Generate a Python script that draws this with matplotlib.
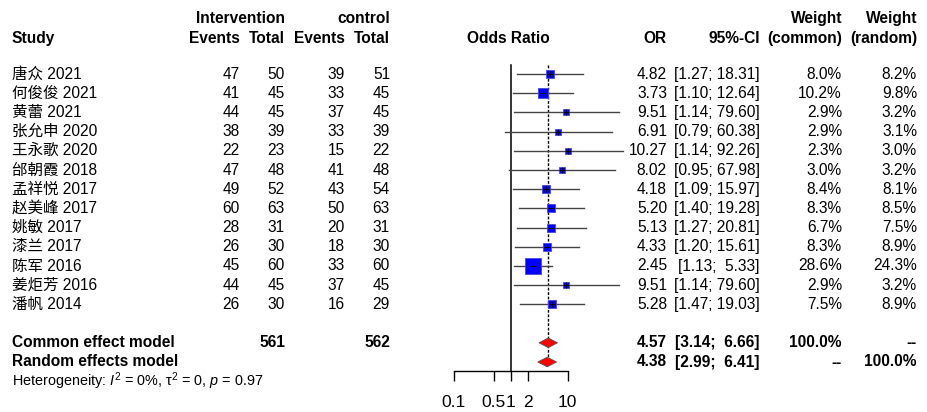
import numpy as np
import matplotlib
matplotlib.use("Agg")
import matplotlib.pyplot as plt

plt.rcParams['font.family'] = ['Liberation Sans', 'Noto Sans CJK SC']
plt.rcParams['mathtext.fontset'] = 'custom'
plt.rcParams['mathtext.rm'] = 'Liberation Sans'
plt.rcParams['mathtext.it'] = 'Liberation Sans:italic'

# data
studies = ["唐众 2021", "何俊俊 2021", "黄蕾 2021", "张允申 2020", "王永歌 2020", "邰朝霞 2018",
           "孟祥悦 2017", "赵美峰 2017", "姚敏 2017", "漆兰 2017", "陈军 2016", "姜炬芳 2016", "潘帆 2014"]
ev_int = [47, 41, 44, 38, 22, 47, 49, 60, 28, 26, 45, 44, 26]
n_int = [50, 45, 45, 39, 23, 48, 52, 63, 31, 30, 60, 45, 30]
ev_ctl = [39, 33, 37, 33, 15, 41, 43, 50, 20, 18, 33, 37, 16]
n_ctl = [51, 45, 45, 39, 22, 48, 54, 63, 31, 30, 60, 45, 29]
odds = [4.82, 3.73, 9.51, 6.91, 10.27, 8.02, 4.18, 5.20, 5.13, 4.33, 2.45, 9.51, 5.28]
ci_lo = [1.27, 1.10, 1.14, 0.79, 1.14, 0.95, 1.09, 1.40, 1.27, 1.20, 1.13, 1.14, 1.47]
ci_hi = [18.31, 12.64, 79.60, 60.38, 92.26, 67.98, 15.97, 19.28, 20.81, 15.61, 5.33, 79.60, 19.03]
w_common = [8.0, 10.2, 2.9, 2.9, 2.3, 3.0, 8.4, 8.3, 6.7, 8.3, 28.6, 2.9, 7.5]
w_random = [8.2, 9.8, 3.2, 3.1, 3.0, 3.2, 8.1, 8.5, 7.5, 8.9, 24.3, 3.2, 8.9]

summ_names = ["Common effect model", "Random effects model"]
summ_or = [4.57, 4.38]
summ_lo = [3.14, 2.99]
summ_hi = [6.66, 6.41]
summ_wc = ["100.0%", "--"]
summ_wr = ["--", "100.0%"]
total_int = 561
total_ctl = 562
tick_vals = [0.1, 0.5, 1, 2, 10]
tick_labels = ["0.1", "0.5", "1", "2", "10"]

W, H = 928, 412
fs = 11.2

fig = plt.figure(figsize=(W / 100, H / 100), dpi=100)
ax = fig.add_axes([0, 0, 1, 1])
ax.set_xlim(0, W)
ax.set_ylim(H, 0)
ax.axis('off')

row0, step = 74, 19.2
y_rows = [row0 + step * i for i in range(len(studies))]
y_summ = [row0 + step * 14, row0 + step * 15]
y_het = row0 + step * 16
y_h1, y_h2 = 18, 38

# header
bold = dict(fontsize=fs, fontweight='bold', va='center')
ax.text(12, y_h2, "Study", ha='left', **bold)
ax.text(285, y_h1, "Intervention", ha='right', **bold)
ax.text(390, y_h1, "control", ha='right', **bold)
for xr, s in [(240, "Events"), (285, "Total"), (345, "Events"), (390, "Total")]:
    ax.text(xr, y_h2, s, ha='right', **bold)
ax.text(508, y_h2, "Odds Ratio", ha='center', **bold)
ax.text(667, y_h2, "OR", ha='right', **bold)
ax.text(760, y_h2, "95%-CI", ha='right', **bold)
ax.text(842, y_h1, "Weight", ha='right', **bold)
ax.text(842, y_h2, "(common)", ha='right', **bold)
ax.text(917, y_h1, "Weight", ha='right', **bold)
ax.text(917, y_h2, "(random)", ha='right', **bold)

# study rows
norm = dict(fontsize=fs, va='center')
for i, y in enumerate(y_rows):
    ax.text(12, y, studies[i], ha='left', **norm)
    ax.text(240, y, str(ev_int[i]), ha='right', **norm)
    ax.text(285, y, str(n_int[i]), ha='right', **norm)
    ax.text(345, y, str(ev_ctl[i]), ha='right', **norm)
    ax.text(390, y, str(n_ctl[i]), ha='right', **norm)
    ax.text(667, y, "%.2f" % odds[i], ha='right', **norm)
    ax.text(760, y, "[%.2f; %5.2f]" % (ci_lo[i], ci_hi[i]), ha='right', **norm)
    ax.text(842, y, "%.1f%%" % w_common[i], ha='right', **norm)
    ax.text(917, y, "%.1f%%" % w_random[i], ha='right', **norm)

for j, y in enumerate(y_summ):
    ax.text(12, y, summ_names[j], ha='left', **bold)
    ax.text(667, y, "%.2f" % summ_or[j], ha='right', **bold)
    ax.text(760, y, "[%.2f; %5.2f]" % (summ_lo[j], summ_hi[j]), ha='right', **bold)
    ax.text(842, y, summ_wc[j], ha='right', **bold)
    ax.text(917, y, summ_wr[j], ha='right', **bold)
ax.text(285, y_summ[0], str(total_int), ha='right', **bold)
ax.text(390, y_summ[0], str(total_ctl), ha='right', **bold)

ax.text(12, y_het, r'Heterogeneity: $\mathit{I}^{\mathrm{2}}$ = 0%, $\mathrm{\tau}^{\mathrm{2}}$ = 0, $\mathit{p}$ = 0.97',
        ha='left', va='center', fontsize=10.4)

# forest panel: log scale, 0.1 -> 454px, 10 -> 568px
axis_y = 371
dec = 56.9
x_left = 510.7 - 2 * dec
fx = fig.add_axes([x_left / W, (H - axis_y) / H, 5 * dec / W, axis_y / H])
fx.set_xscale('log')
fx.set_xlim(0.01, 1000)
fx.set_ylim(axis_y, 0)
fx.patch.set_alpha(0)
for sp in ['top', 'left', 'right']:
    fx.spines[sp].set_visible(False)
fx.spines['bottom'].set_bounds(0.1, 10)
fx.spines['bottom'].set_linewidth(1.0)
fx.set_yticks([])
fx.set_xticks(tick_vals)
fx.set_xticklabels(tick_labels)
fx.xaxis.set_minor_locator(matplotlib.ticker.NullLocator())
fx.tick_params(axis='x', direction='out', length=7, width=1.0, pad=10, labelsize=12.5)

top_y = 65
fx.plot([1, 1], [top_y, axis_y], color='black', lw=1.1, zorder=1)
fx.plot([summ_or[0], summ_or[0]], [top_y, y_summ[1] - 5], color='black', lw=1.0,
        linestyle=(0, (2, 1.2)), zorder=1)

ci_col = '#454545'
for i, y in enumerate(y_rows):
    fx.plot([ci_lo[i], ci_hi[i]], [y, y], color=ci_col, lw=1.0, zorder=2)
    side = (1.8 + 2.47 * np.sqrt(w_common[i])) * 0.72
    fx.plot(odds[i], y, marker='s', markersize=side, color='#0000ff',
            markeredgecolor='#4848e0', markeredgewidth=0.6, zorder=3)
    fx.plot(odds[i], y, marker='+', markersize=5, color='black', markeredgewidth=0.7, zorder=4)

for j, y in enumerate(y_summ):
    xs = [summ_lo[j], summ_or[j], summ_hi[j], summ_or[j], summ_lo[j]]
    ys = [y, y - 4.8, y, y + 4.8, y]
    fx.fill(xs, ys, facecolor='#ff0000', edgecolor='#555555', lw=0.6, zorder=3)

fig.savefig("out.png", dpi=100)
